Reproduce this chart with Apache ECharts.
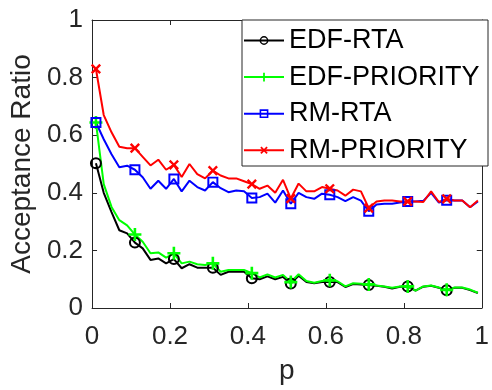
<!DOCTYPE html>
<html>
<head>
<meta charset="utf-8">
<script src="https://cdn.jsdelivr.net/npm/echarts@6/dist/echarts.min.js"></script>
<style>
  html, body { margin: 0; padding: 0; background: #fff; }
  #chart { width: 492px; height: 390px; }
</style>
</head>
<body>
<div id="chart"></div>
<script>
  // x positions (p)
  var pValues = [0.01, 0.03, 0.05, 0.07, 0.09, 0.11, 0.13, 0.15, 0.17, 0.19,
    0.21, 0.23, 0.25, 0.27, 0.29, 0.31, 0.33, 0.35, 0.37, 0.39,
    0.41, 0.43, 0.45, 0.47, 0.49, 0.51, 0.53, 0.55, 0.57, 0.59,
    0.61, 0.63, 0.65, 0.67, 0.69, 0.71, 0.73, 0.75, 0.77, 0.79,
    0.81, 0.83, 0.85, 0.87, 0.89, 0.91, 0.93, 0.95, 0.97, 0.99];

  //EDF-RTA
  var edfRta = [0.503, 0.40, 0.333, 0.27, 0.259, 0.227, 0.207, 0.167, 0.172, 0.155,
    0.17, 0.138, 0.152, 0.14, 0.14, 0.14, 0.115, 0.126, 0.126, 0.126,
    0.103, 0.10, 0.11, 0.10, 0.108, 0.085, 0.112, 0.09, 0.086, 0.09,
    0.09, 0.09, 0.073, 0.083, 0.082, 0.08, 0.077, 0.074, 0.068, 0.074,
    0.075, 0.06, 0.074, 0.077, 0.07, 0.062, 0.07, 0.07, 0.062, 0.052];

  //EDF-PRIORITY
  var edfPriority = [0.644, 0.43, 0.351, 0.305, 0.287, 0.255, 0.23, 0.19, 0.193, 0.175,
    0.19, 0.155, 0.161, 0.152, 0.149, 0.155, 0.126, 0.132, 0.132, 0.132,
    0.121, 0.106, 0.117, 0.106, 0.115, 0.09, 0.117, 0.094, 0.088, 0.094,
    0.096, 0.093, 0.075, 0.086, 0.084, 0.082, 0.078, 0.075, 0.07, 0.075,
    0.075, 0.06, 0.075, 0.078, 0.071, 0.063, 0.071, 0.071, 0.064, 0.053];

  //RM-RTA
  var rmRta = [0.644, 0.586, 0.534, 0.489, 0.494, 0.48, 0.454, 0.414, 0.442, 0.414,
    0.448, 0.405, 0.442, 0.42, 0.408, 0.437, 0.416, 0.402, 0.408, 0.405,
    0.382, 0.385, 0.397, 0.366, 0.408, 0.362, 0.40, 0.385, 0.379, 0.397,
    0.393, 0.385, 0.371, 0.385, 0.373, 0.336, 0.359, 0.362, 0.362, 0.366,
    0.37, 0.37, 0.372, 0.40, 0.366, 0.374, 0.373, 0.373, 0.35, 0.37];

  //RM-PRIORITY
  var rmPriority = [0.83, 0.67, 0.61, 0.56, 0.555, 0.555, 0.525, 0.495, 0.515, 0.48,
    0.497, 0.455, 0.50, 0.465, 0.45, 0.477, 0.46, 0.45, 0.45, 0.44,
    0.43, 0.414, 0.425, 0.40, 0.445, 0.38, 0.432, 0.405, 0.405, 0.42,
    0.414, 0.408, 0.39, 0.411, 0.405, 0.347, 0.37, 0.373, 0.373, 0.37,
    0.37, 0.37, 0.368, 0.405, 0.368, 0.379, 0.373, 0.373, 0.35, 0.373];

  var seriesNames = ['EDF-RTA', 'EDF-PRIORITY', 'RM-RTA', 'RM-PRIORITY'];
  var xTicks = [0, 0.2, 0.4, 0.6, 0.8, 1];

  var FONT = 'Liberation Sans';
  var AXIS_COLOR = '#262626';
  //空心标记（透明内部）
  var plusPath = 'path://M4,0 H6 V4 H10 V6 H6 V10 H4 V6 H0 V4 H4 Z';
  var ringPath = 'path://M0,5 A5,5 0 1,1 10,5 A5,5 0 1,1 0,5 Z M1.7,5 A3.3,3.3 0 1,0 8.3,5 A3.3,3.3 0 1,0 1.7,5 Z';
  var squarePath = 'path://M0,0 H10 V10 H0 Z M1.8,1.8 V8.2 H8.2 V1.8 Z';

  //每5个点画一个标记
  function buildData(values) {
    return pValues.map(function (p, i) {
      if (i % 5 === 0) {
        return [p, values[i]];
      }
      return { value: [p, values[i]], symbol: 'none' };
    });
  }

  function makeSeries(name, values, color, symbol, size, rotate) {
    return {
      name: name,
      type: 'line',
      data: buildData(values),
      symbol: symbol,
      symbolSize: size,
      symbolRotate: rotate || 0,
      showSymbol: true,
      showAllSymbol: true,
      animation: false,
      lineStyle: { color: color, width: 2 },
      itemStyle: { color: color, borderWidth: 0 }
    };
  }

  var chart = echarts.init(document.getElementById('chart'));

  var axisBase = {
    type: 'value',
    min: 0,
    max: 1,
    interval: 0.2,
    splitLine: { show: false },
    axisLine: { show: true, onZero: false, lineStyle: { color: AXIS_COLOR, width: 1 } },
    axisTick: { show: true, inside: true, length: 5, lineStyle: { color: AXIS_COLOR } }
  };

  var option = {
    backgroundColor: '#fff',
    grid: { left: 89, right: 4, top: 20, bottom: 80, containLabel: false },
    xAxis: [
      echarts.util.merge({
        position: 'bottom',
        name: 'p',
        nameLocation: 'middle',
        nameGap: 49,
        nameTextStyle: { fontFamily: FONT, fontSize: 28, color: AXIS_COLOR },
        axisLabel: {
          fontFamily: FONT, fontSize: 26, color: AXIS_COLOR, margin: 16,
          formatter: function (v) { return xTicks.indexOf(v) >= 0 ? String(v) : ''; }
        }
      }, axisBase, true),
      echarts.util.merge({ position: 'top', axisLabel: { show: false } }, axisBase, true)
    ],
    yAxis: [
      echarts.util.merge({
        position: 'left',
        name: 'Acceptance Ratio',
        nameLocation: 'middle',
        nameGap: 48,
        nameTextStyle: { fontFamily: FONT, fontSize: 28, color: AXIS_COLOR },
        axisLabel: { fontFamily: FONT, fontSize: 26, color: AXIS_COLOR, margin: 9 }
      }, axisBase, true),
      echarts.util.merge({ position: 'right', axisLabel: { show: false } }, axisBase, true)
    ],
    legend: {
      data: seriesNames,
      orient: 'vertical',
      left: 243,
      top: 27,
      itemWidth: 40,
      itemHeight: 11,
      itemGap: 9.6,
      padding: 0,
      z: 10,
      textStyle: { fontFamily: FONT, fontSize: 27, color: '#000' }
    },
    graphic: [{
      type: 'rect',
      z: 5,
      shape: { x: 242, y: 20, width: 246, height: 146 },
      style: { fill: '#fff', stroke: AXIS_COLOR, lineWidth: 1 }
    }],
    series: [
      makeSeries(seriesNames[0], edfRta, '#000000', ringPath, 12, 0),
      makeSeries(seriesNames[1], edfPriority, '#00ff00', plusPath, 13, 0),
      makeSeries(seriesNames[2], rmRta, '#0000ff', squarePath, 11, 0),
      makeSeries(seriesNames[3], rmPriority, '#ff0000', plusPath, 12, 45)
    ]
  };

  chart.setOption(option);
</script>
</body>
</html>
